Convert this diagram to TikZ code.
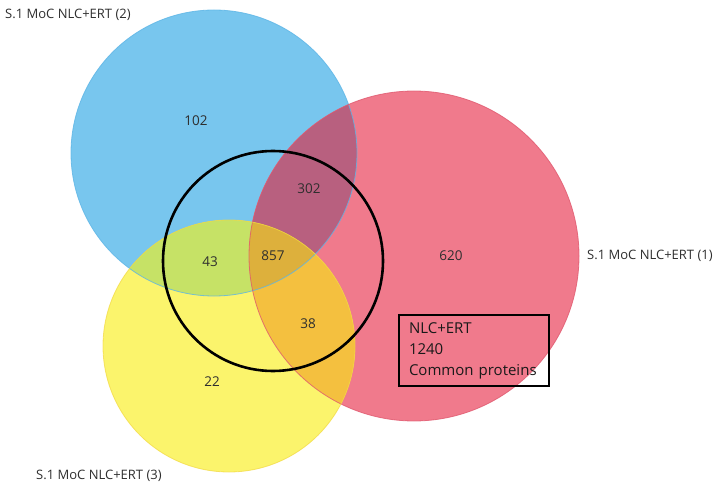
\documentclass[tikz,border=0pt]{standalone}
\usepackage{fontspec}
\setmainfont{Open Sans}
\definecolor{cB}{HTML}{78C6EE}
\definecolor{cR}{HTML}{F07A8C}
\definecolor{cY}{HTML}{FBF46C}
\definecolor{cBR}{HTML}{B8607F}
\definecolor{cBY}{HTML}{C6E266}
\definecolor{cRY}{HTML}{F4C03F}
\definecolor{cBRY}{HTML}{DDB03C}
\definecolor{eB}{HTML}{5DB5E6}
\definecolor{eR}{HTML}{E0586E}
\definecolor{eY}{HTML}{F2D840}
\definecolor{txt}{HTML}{2E2E2E}
\begin{document}
\begin{tikzpicture}[x=1pt,y=-1pt,
  num/.style={text=txt,font=\fontsize{13.5}{15}\selectfont,inner sep=0pt},
  setlabel/.style={text=txt,font=\fontsize{13}{15}\selectfont,inner sep=0pt},
  infobox/.style={draw=black,line width=1.6pt,inner xsep=10pt,inner ysep=0pt,
    text width=130pt,align=left,minimum height=71pt,
    font=\fontsize{15}{21}\selectfont,text=black!90}]
\useasboundingbox (0,0) rectangle (722,486);
\def\Bc{(214,153) circle[radius=143pt]}
\def\Rc{(414,256) circle[radius=165pt]}
\def\Yc{(229,346) circle[radius=126pt]}
\coordinate (cb) at (214,153);
\coordinate (cr) at (414,256);
\coordinate (cy) at (229,346);
\coordinate (ck) at (273,261);
% base fills
\fill[cB] \Bc;
\fill[cR] \Rc;
\fill[cY] \Yc;
% pairwise overlaps
\begin{scope}\clip \Bc; \fill[cBR] \Rc; \end{scope}
\begin{scope}\clip \Bc; \fill[cBY] \Yc; \end{scope}
\begin{scope}\clip \Rc; \fill[cRY] \Yc; \end{scope}
\begin{scope}\clip \Bc; \clip \Rc; \fill[cBRY] \Yc; \end{scope}
% edges
\draw[eB,line width=0.8pt,opacity=0.8] \Bc;
\draw[eR,line width=0.8pt,opacity=0.8] \Rc;
\draw[eY,line width=0.8pt,opacity=0.7] \Yc;
% black circle
\draw[black,line width=2.6pt] (ck) circle[radius=110pt];
% numbers
\node[num] (n102) at (196,121) {102};
\node[num] (n302) at (309,189) {302};
\node[num] (n43) at (210,262) {43};
\node[num] (n857) at (273,256) {857};
\node[num] (n38) at (308,324) {38};
\node[num] (n22) at (212,382) {22};
\node[num] (n620) at (451,256) {620};
% set labels
\node[setlabel,anchor=west] (l2) at (5,15) {S.1 MoC NLC+ERT (2)};
\node[setlabel,anchor=west] (l1) at (587,256) {S.1 MoC NLC+ERT (1)};
\node[setlabel,anchor=west] (l3) at (36,476) {S.1 MoC NLC+ERT (3)};
% info box
\node[infobox] (box) at (474,350.5) {NLC+ERT\\1240\\Common proteins};
\end{tikzpicture}
\end{document}
